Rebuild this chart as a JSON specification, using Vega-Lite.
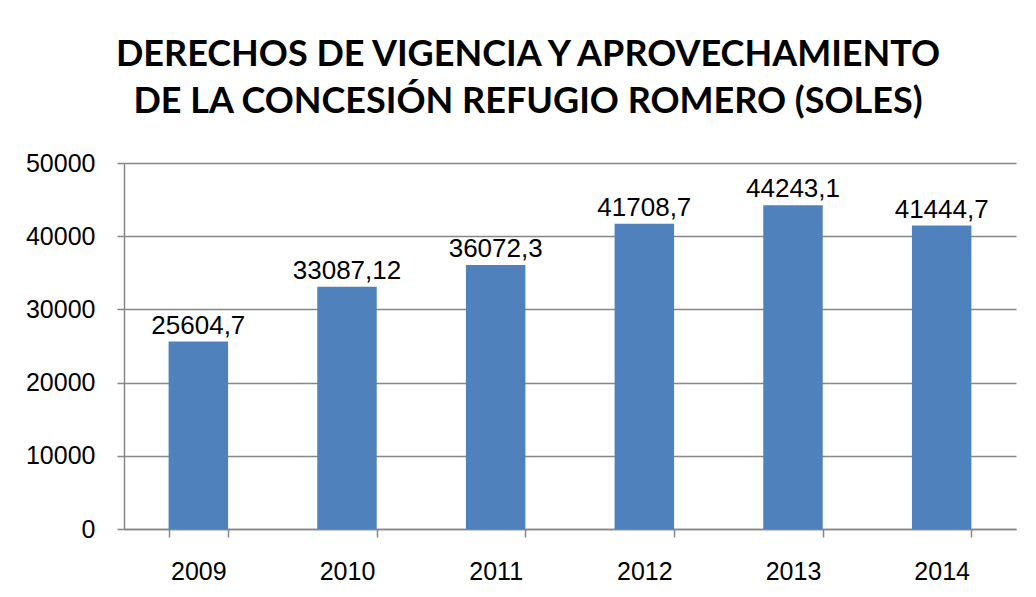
{
  "$schema": "https://vega.github.io/schema/vega-lite/v6.json",
  "autosize": "none",
  "width": 892,
  "height": 366,
  "padding": {"left": 124, "top": 163, "right": 20, "bottom": 68},
  "background": "white",
  "title": {
    "text": ["DERECHOS DE VIGENCIA Y APROVECHAMIENTO", "DE LA  CONCESIÓN REFUGIO ROMERO (SOLES)"],
    "font": "Lato",
    "fontWeight": "bold",
    "fontSize": 36,
    "lineHeight": 47,
    "color": "#000000",
    "anchor": "middle",
    "frame": "group",
    "dx": -42,
    "offset": 30
  },
  "config": {
    "view": {"stroke": null},
    "locale": {"number": {"decimal": ",", "thousands": "", "grouping": [3], "currency": ["", ""]}}
  },
  "data": {
    "values": [
      {"year": "2009", "soles": 25604.7},
      {"year": "2010", "soles": 33087.12},
      {"year": "2011", "soles": 36072.3},
      {"year": "2012", "soles": 41708.7},
      {"year": "2013", "soles": 44243.1},
      {"year": "2014", "soles": 41444.7}
    ]
  },
  "encoding": {
    "x": {
      "field": "year",
      "type": "nominal",
      "sort": null,
      "scale": {"paddingInner": 0.6, "paddingOuter": 0.3},
      "axis": {
        "title": null,
        "labelAngle": 0,
        "labelFont": "Liberation Sans, Arial, sans-serif",
        "labelFontSize": 25,
        "labelColor": "#000000",
        "labelPadding": 22,
        "domainColor": "#868686",
        "domainWidth": 1.5,
        "tickColor": "#868686",
        "tickWidth": 1.5,
        "tickSize": 8,
        "tickBand": "extent",
        "grid": false
      }
    },
    "y": {
      "field": "soles",
      "type": "quantitative",
      "scale": {"domain": [0, 50000], "nice": false},
      "axis": {
        "title": null,
        "values": [0, 10000, 20000, 30000, 40000, 50000],
        "format": "d",
        "labelFont": "Liberation Sans, Arial, sans-serif",
        "labelFontSize": 25,
        "labelColor": "#000000",
        "labelPadding": 22,
        "domainColor": "#868686",
        "domainWidth": 1.5,
        "tickColor": "#868686",
        "tickWidth": 1.5,
        "tickSize": 7,
        "gridColor": "#868686",
        "gridWidth": 1.5
      }
    }
  },
  "layer": [
    {"mark": {"type": "bar", "color": "#4F81BD"}},
    {
      "mark": {
        "type": "text",
        "baseline": "alphabetic",
        "dy": -8,
        "font": "Liberation Sans, Arial, sans-serif",
        "fontSize": 26,
        "color": "#000000"
      },
      "encoding": {"text": {"field": "soles", "type": "quantitative", "format": "~f"}}
    }
  ]
}
